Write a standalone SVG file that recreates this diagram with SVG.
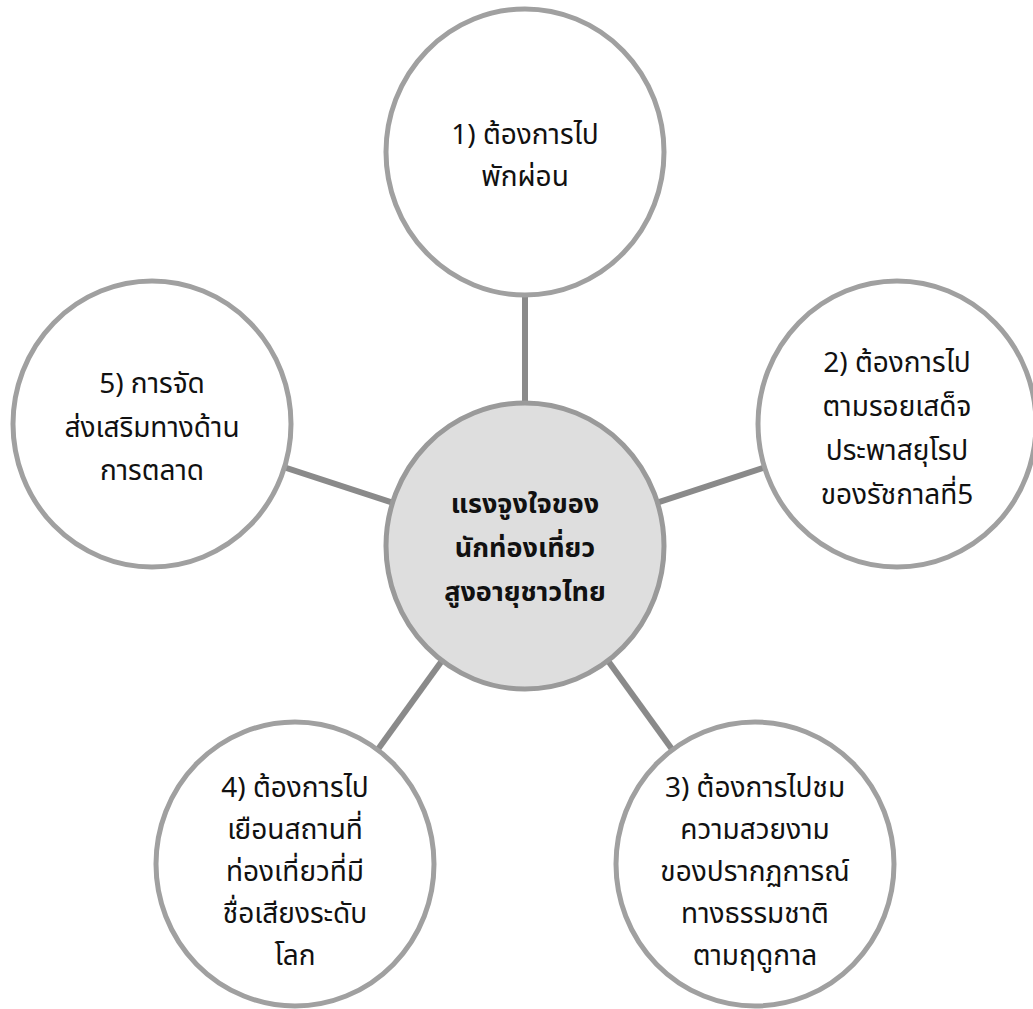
<svg xmlns="http://www.w3.org/2000/svg" width="1033" height="1009" viewBox="0 0 1033 1009">
<style>
.conn{stroke:#8a8a8a;stroke-width:6;fill:none}
.outer{fill:#ffffff;stroke:#a0a0a0;stroke-width:5}
.center{fill:#dedede;stroke:#9a9a9a;stroke-width:5}
.t{font-family:"Noto Sans Thai","Noto Sans","Leelawadee UI",Tahoma,sans-serif;font-size:28px;fill:#111;text-anchor:middle}
.b{font-weight:bold;font-size:27px}
</style>
<rect width="1033" height="1009" fill="#ffffff"/>
<g id="connectors">
<line class="conn" x1="525" y1="546" x2="525" y2="152"/>
<line class="conn" x1="525" y1="546" x2="897" y2="424"/>
<line class="conn" x1="525" y1="546" x2="755" y2="864"/>
<line class="conn" x1="525" y1="546" x2="295" y2="864"/>
<line class="conn" x1="525" y1="546" x2="152" y2="424"/>
</g>
<g id="node1">
<ellipse class="outer" cx="525" cy="152" rx="139" ry="143"/>
<text class="t" x="525" y="144">1) ต้องการไป</text>
<text class="t" x="525" y="186">พักผ่อน</text>
</g>
<g id="node2">
<ellipse class="outer" cx="897" cy="424" rx="139" ry="143"/>
<text class="t" x="897" y="372">2) ต้องการไป</text>
<text class="t" x="897" y="416">ตามรอยเสด็จ</text>
<text class="t" x="897" y="460">ประพาสยุโรป</text>
<text class="t" x="897" y="504">ของรัชกาลที่5</text>
</g>
<g id="node3">
<ellipse class="outer" cx="755" cy="864" rx="139" ry="142"/>
<text class="t" x="755" y="797">3) ต้องการไปชม</text>
<text class="t" x="755" y="839">ความสวยงาม</text>
<text class="t" x="755" y="881">ของปรากฏการณ์</text>
<text class="t" x="755" y="923">ทางธรรมชาติ</text>
<text class="t" x="755" y="965">ตามฤดูกาล</text>
</g>
<g id="node4">
<ellipse class="outer" cx="295" cy="864" rx="139" ry="142"/>
<text class="t" x="295" y="797">4) ต้องการไป</text>
<text class="t" x="295" y="839">เยือนสถานที่</text>
<text class="t" x="295" y="881">ท่องเที่ยวที่มี</text>
<text class="t" x="295" y="923">ชื่อเสียงระดับ</text>
<text class="t" x="295" y="965">โลก</text>
</g>
<g id="node5">
<ellipse class="outer" cx="152" cy="424" rx="139" ry="143"/>
<text class="t" x="152" y="393">5) การจัด</text>
<text class="t" x="152" y="437">ส่งเสริมทางด้าน</text>
<text class="t" x="152" y="480">การตลาด</text>
</g>
<g id="center">
<ellipse class="center" cx="525" cy="546" rx="139" ry="143"/>
<text class="t b" x="525" y="513">แรงจูงใจของ</text>
<text class="t b" x="525" y="557">นักท่องเที่ยว</text>
<text class="t b" x="525" y="601">สูงอายุชาวไทย</text>
</g>
</svg>
